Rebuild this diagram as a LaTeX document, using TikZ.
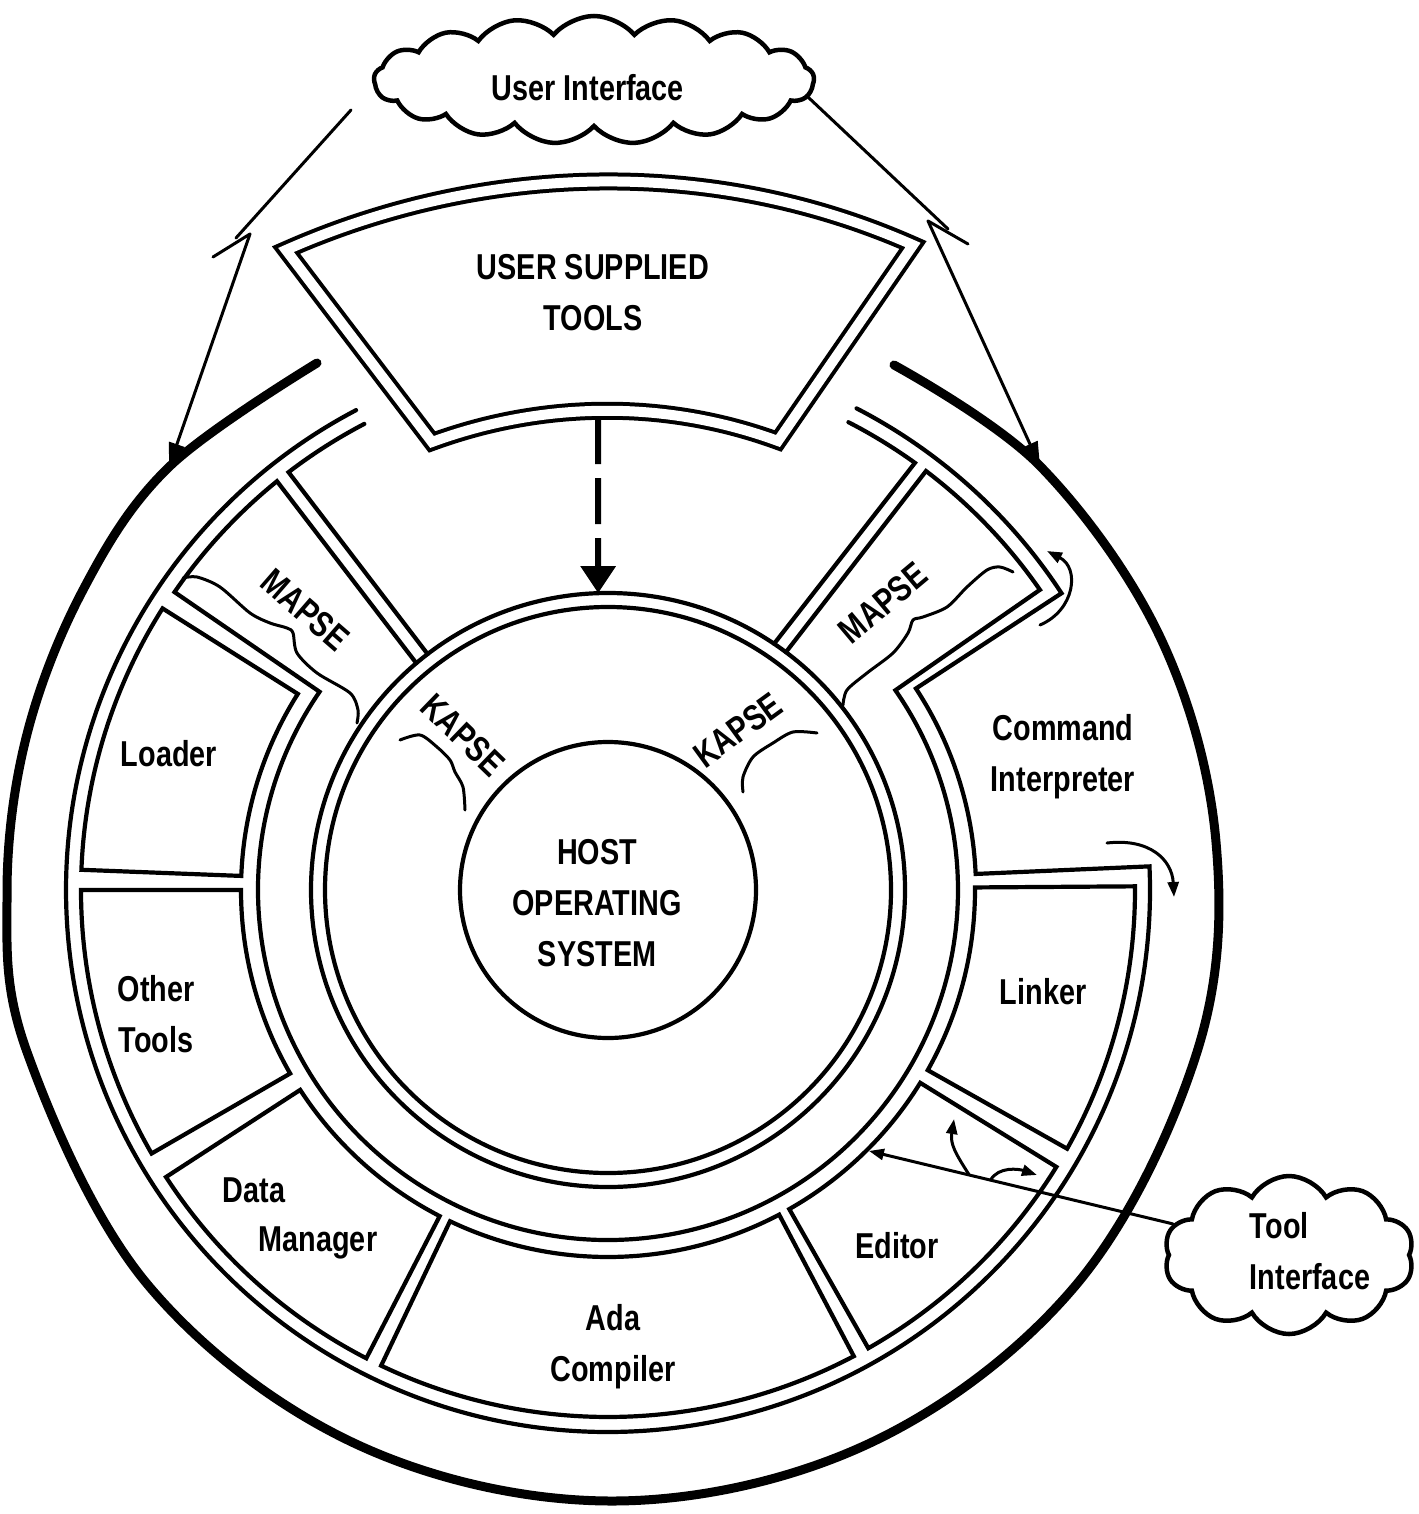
\documentclass[tikz,border=0pt]{standalone}
\usepackage{fontspec}
\setmainfont{Liberation Sans}[FakeStretch=0.8]
\usetikzlibrary{calc,arrows.meta,shapes.symbols}

\begin{document}
\begin{tikzpicture}[x=1pt,y=-1pt,
  wall/.style={line width=4.2pt, line join=miter, line cap=round},
  thinline/.style={line width=3pt, line cap=round},
  bracecurve/.style={line width=3pt, line cap=round},
  lbl/.style={font=\fontsize{36}{51}\selectfont\bfseries, inner sep=0pt, align=center},
  bubble/.style={cloud, draw, line width=4.5pt, cloud ignores aspect, inner sep=0pt, fill=white},
  uitip/.style={-{Triangle[length=24pt,width=16pt]}},
  smtip/.style={-{Triangle[length=15pt,width=11pt]}},
]
\useasboundingbox (0,0) rectangle (1418,1514);
\fill[white] (0,0) rectangle (1418,1514);

\coordinate (O) at (608,890);

% heavy outer boundary of the environment
\draw[line width=9pt, line cap=round] plot[smooth, tension=0.6] coordinates {
  (894,365) (1040,466) (1161,639) (1216,842) (1197,1052) (1076,1285)
  (868,1444) (612,1501) (356,1444) (148,1285) (27,1052) (7,895)
  (26,738) (83,590) (169,467) (317,363)};

% host operating system and KAPSE ring
\draw[wall] (O) circle[radius=148];
\draw[wall] (O) circle[radius=283];
\draw[wall] (O) circle[radius=297];

% MAPSE layer: two upper boxes joined by a band around the KAPSE
\draw[wall] ($(O)+(-130.2:297)$) -- ($(O)+(-129.0:526)$)
  arc[start angle=-129.0, end angle=-145.5, radius=526]
  -- ($(O)+(-145.5:350)$)
  arc[start angle=214.5, end angle=-34.8, radius=350]
  -- ($(O)+(-34.8:526)$)
  arc[start angle=-34.8, end angle=-52.8, radius=526]
  -- ($(O)+(-53.2:297)$);

% walls of the opening for user supplied tools
\draw[wall] ($(O)+(-117.6:526)$) arc[start angle=-117.6, end angle=-127.4, radius=526]
  -- ($(O)+(-127.4:297)$);
\draw[wall] ($(O)+(-56:297)$) -- ($(O)+(-54.3:526)$)
  arc[start angle=-54.3, end angle=-62.8, radius=526];

% outer ring, open at the command interpreter
\draw[wall] ($(O)+(-62.7:542)$) arc[start angle=-62.7, end angle=-33.2, radius=542]
  -- ($(O)+(-33.2:368)$) arc[start angle=-33.2, end angle=-2.5, radius=368]
  -- ($(O)+(-2.5:542)$) arc[start angle=-2.5, end angle=242.3, radius=542];

% tool boxes
\newcommand*\toolsector[2]{%
  \draw[wall] ($(O)+(#1:367)$) arc[start angle=#1, end angle=#2, radius=367]
    -- ($(O)+(#2:527)$) arc[start angle=#2, end angle=#1, radius=527] -- cycle;}
\toolsector{182.2}{212.3}
\toolsector{150}{180}
\toolsector{117.3}{147}
\toolsector{62.2}{115.5}
\toolsector{31.7}{60.4}
\toolsector{-0.4}{29.4}

% user supplied tools box
\draw[line width=4pt, double distance=10pt, fill=white]
  (286,250) .. controls (485,162) and (714,157) .. (913,245)
  -- (778,441) .. controls (666,400) and (544,401) .. (432,442) -- cycle;
\node[lbl] (ust) at (593,293) {USER SUPPLIED\\TOOLS};

% user interface and its links
\node[bubble, cloud puffs=17, cloud puff arc=100, minimum width=440pt, minimum height=128pt]
  (ui) at (594,80) {};
\node[lbl] (uitext) at (588,88) {User Interface};

\coordinate (uiL0) at (351,110);
\coordinate (uiL1) at (236,238);
\coordinate (uiLa) at (213,257);
\coordinate (uiLb) at (250,234);
\coordinate (uiLtip) at (169,467);
\draw[thinline] (uiL0) -- (uiL1);
\draw[thinline] (uiLa) -- (uiLb);
\draw[thinline, uitip] (uiLb) -- (uiLtip);

\coordinate (uiR0) at (809,98);
\coordinate (uiR1) at (948,229);
\coordinate (uiRa) at (968,244);
\coordinate (uiRb) at (928,221);
\coordinate (uiRtip) at (1040,466);
\draw[thinline] (uiR0) -- (uiR1);
\draw[thinline] (uiRa) -- (uiRb);
\draw[thinline, uitip] (uiRb) -- (uiRtip);

% dashed arrow from user tools down to the KAPSE
\coordinate (ustB) at (598,418);
\coordinate (kTop) at ($(O)+(-91.9:297)$);
\draw[line width=6pt, dash pattern=on 46pt off 14pt, -{Triangle[length=27pt,width=34pt]}]
  (ustB) -- (kTop);

% braces marking the layers
\draw[bracecurve] plot[smooth] coordinates {(183,578) (197,577) (220,587) (250,613) (270,623)
  (287,628) (293,633) (297,653) (317,673) (350,693) (358,710) (357,723)};
\draw[bracecurve] plot[smooth] coordinates {(1013,572) (1000,567) (987,570) (967,587) (947,607)
  (923,617) (913,620) (908,633) (893,653) (867,673) (847,690) (843,705)};
\draw[bracecurve] plot[smooth] coordinates {(400,740) (420,735) (437,747) (450,760) (455,772)
  (463,787) (465,810)};
\draw[bracecurve] plot[smooth] coordinates {(817,733) (793,732) (773,743) (753,757) (743,777)
  (743,792)};

% layer labels
\node[lbl, rotate=-41] (mapseL) at (305,610) {MAPSE};
\node[lbl, rotate=40] (mapseR) at (883,603) {MAPSE};
\node[lbl, rotate=-44] (kapseL) at (463,735) {KAPSE};
\node[lbl, rotate=36] (kapseR) at (738,730) {KAPSE};

% tool labels
\node[lbl] (host) at (597,903) {HOST\\OPERATING\\SYSTEM};
\node[lbl] (loader) at (169,754) {Loader};
\node[lbl] (other) at (156,1014) {Other\\Tools};
\node[lbl] (data) at (254,1190) {Data};
\node[lbl] (manager) at (318,1243) {Manager};
\node[lbl] (ada) at (613,1347) {Ada\\Compiler};
\node[lbl] (editor) at (897,1246) {Editor};
\node[lbl] (linker) at (1043,992) {Linker};
\node[lbl] (cmd) at (1063,757) {Command\\Interpreter};

% command interpreter interaction arrows
\coordinate (mrA0) at (1040,625);
\coordinate (mrA1) at (1047,551);
\draw[thinline, smtip] (mrA0) .. controls (1075,610) and (1080,568) .. (mrA1);
\coordinate (ciA0) at (1107,843);
\coordinate (ciA1) at (1174,897);
\draw[thinline, smtip] (ciA0) .. controls (1150,838) and (1172,860) .. (ciA1);

% tool interface
\node[bubble, cloud puffs=10, cloud puff arc=120, minimum width=250pt, minimum height=158pt]
  (ti) at (1289,1255) {};
\node[lbl, align=left] (titext) at (1310,1251) {Tool\\Interface};
\coordinate (tiTip) at ($(O)+(45:369)$);
\draw[thinline, smtip] (ti.165) -- (tiTip);
\coordinate (edA0) at ($(tiTip)!0.33!(ti.165)$);
\coordinate (edA1) at ($(O)+(33.5:415)$);
\draw[thinline, smtip] (edA0) .. controls +(-14,-22) and +(-4,25) .. (edA1);
\coordinate (edB0) at ($(tiTip)!0.40!(ti.165)$);
\coordinate (edB1) at ($(O)+(33.6:515)$);
\draw[thinline, smtip] (edB0) .. controls +(8,-14) and +(-18,-6) .. (edB1);
\end{tikzpicture}
\end{document}
